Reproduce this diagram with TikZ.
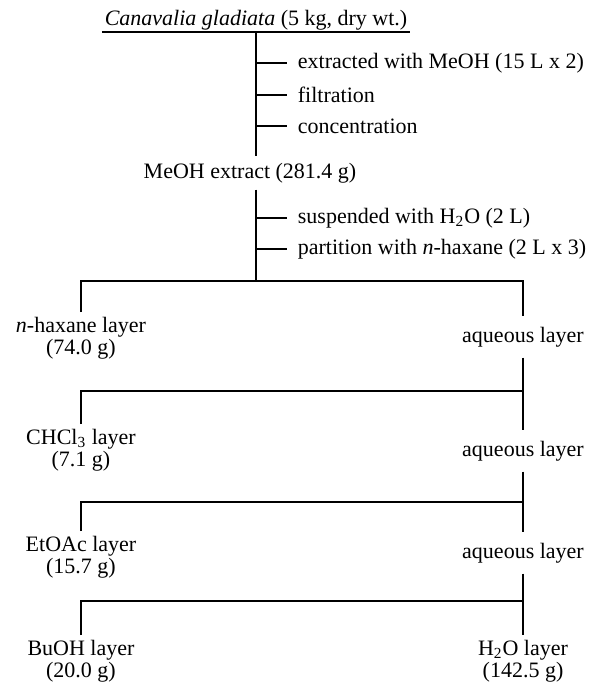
\documentclass[tikz,border=0pt]{standalone}
\usepackage{fontspec}
\setmainfont{Liberation Serif}

\tikzset{
  every node/.style={font=\fontsize{11}{10}\selectfont},
  opn/.style={anchor=west,inner xsep=5pt},
  lyr/.style={anchor=north,align=center,inner ysep=2pt},
  aqs/.style={anchor=base,inner ysep=5pt}
}

\begin{document}
\begin{tikzpicture}[x=0.5pt,y=-0.5pt,line width=0.9pt]
        \useasboundingbox (0,0) rectangle (595,684);
        \node[anchor=south,inner xsep=1pt,inner ysep=0.3pt] (src) at (256,32) {\textit{Canavalia gladiata} (5 kg, dry wt.)};
        \draw (src.south west) -- (src.south east);
        \node[opn] (ext) at (287,63) {extracted with MeOH (15 L x 2)};
        \node[opn] (filt) at (287,95) {filtration};
        \node[opn] (conc) at (287,126) {concentration};
        \node[anchor=base,inner ysep=3pt] (meoh) at (250,178) {MeOH extract (281.4 g)};
        \draw (src.south) -- (src.south |- meoh.north);
        \draw (ext.west -| src.south) -- (ext.west);
        \draw (filt.west -| src.south) -- (filt.west);
        \draw (conc.west -| src.south) -- (conc.west);

        \coordinate (b1) at (256,281);
        \node[opn] (susp) at (287,218) {suspended with H\textsubscript{2}O (2 L)};
        \node[opn] (part) at (287,249) {partition with \textit{n}-haxane (2 L x 3)};
        \draw (meoh.south -| b1) -- (b1);
        \draw (susp.west -| b1) -- (susp.west);
        \draw (part.west -| b1) -- (part.west);

        \node[lyr] (hex) at (81,312) {\textit{n}-haxane layer\\(74.0 g)};
        \node[aqs] (aq1) at (523,342) {aqueous layer};
        \draw (hex.north) |- (b1) -- (b1 -| aq1.north) -- (aq1.north);

        \coordinate (b2) at (523,391);
        \node[lyr] (chcl) at (81,424) {CHCl\textsubscript{3} layer\\(7.1 g)};
        \node[aqs] (aq2) at (523,456) {aqueous layer};
        \draw (aq1.south) -- (aq2.north);
        \draw (chcl.north) |- (b2);

        \coordinate (b3) at (523,502);
        \node[lyr] (etoac) at (81,531) {EtOAc layer\\(15.7 g)};
        \node[aqs] (aq3) at (523,558) {aqueous layer};
        \draw (aq2.south) -- (aq3.north);
        \draw (etoac.north) |- (b3);

        \coordinate (b4) at (523,601);
        \node[lyr] (buoh) at (81,635) {BuOH layer\\(20.0 g)};
        \node[lyr] (water) at (523,635) {H\textsubscript{2}O layer\\(142.5 g)};
        \draw (aq3.south) -- (water.north);
        \draw (buoh.north) |- (b4);
\end{tikzpicture}
\end{document}
